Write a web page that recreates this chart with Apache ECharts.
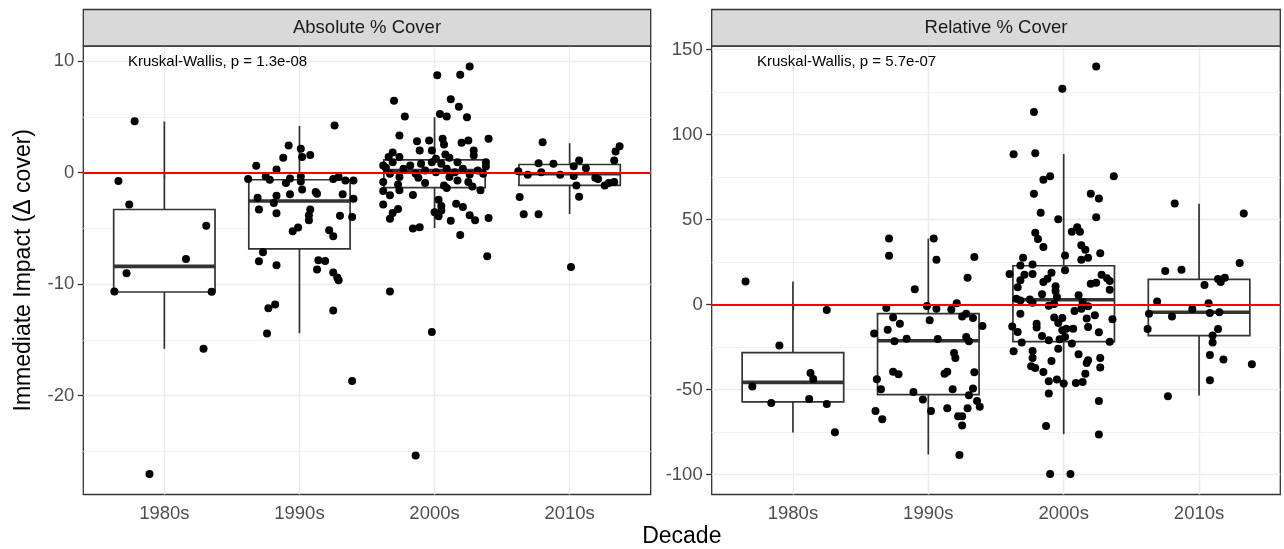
<!DOCTYPE html>
<html>
<head>
<meta charset="utf-8">
<title>Immediate impact by decade</title>
<script src="https://cdn.jsdelivr.net/npm/echarts@6/dist/echarts.min.js"></script>
<style>
  html, body { margin: 0; padding: 0; background: #fff; }
  #chart { width: 1284px; height: 549px; }
</style>
</head>
<body>
<div id="chart"></div>
<script>
const decades = ['1980s', '1990s', '2000s', '2010s']

// y axis ticks / ranges (ggplot default 5% expansion)
const absTicks = [-20, -10, 0, 10]
const absMinor = [-25, -15, -5, 5]
const absRange = [-28.87, 11.37]
const relTicks = [-100, -50, 0, 50, 100, 150]
const relMinor = [-75, -25, 25, 75, 125]
const relRange = [-111.7, 152.2]

// box stats: min, Q1, median, Q3, max
const absBox = [
  [-15.8, -10.7, -8.4, -3.3, 4.6],
  [-14.4, -6.84, -2.54, -0.63, 4.2],
  [-4.96, -1.34, 0.2, 1.16, 4.98],
  [-3.7, -1.14, -0.09, 0.74, 2.65]
]
const relBox = [
  [-75.2, -57.2, -45.7, -28.2, 13.7],
  [-88.2, -52.9, -21.2, -5.3, 38.8],
  [-76.2, -21.7, 2.9, 22.9, 88.7],
  [-53.5, -18.2, -4.5, 14.9, 59.4]
]

// jittered points: [jitter offset, value]
const abs1980 = [[-0.22, 4.62], [-0.34, -0.75], [-0.26, -2.84], [0.31, -4.75], [0.16, -7.73], [-0.28, -9.02], [-0.37, -10.66], [0.35, -10.69], [0.29, -15.79], [-0.11, -27.04]]
const abs1990 = [[0.26, 4.23], [-0.08, 2.44], [0.01, 2.15], [0.02, 1.4], [0.08, 1.58], [-0.12, 1.34], [-0.32, 0.63], [-0.17, 0.3], [-0.38, -0.57], [-0.25, -0.33], [-0.22, -0.63], [-0.07, -0.51], [-0.1, -0.93], [0.01, -0.33], [0.01, -0.78], [0.02, -1.5], [0.25, -0.57], [0.29, -0.39], [0.34, -0.69], [0.4, -0.69], [-0.31, -2.24], [-0.17, -2.06], [-0.19, -2.72], [-0.07, -1.92], [0.12, -1.74], [0.13, -1.88], [0.32, -1.92], [0.4, -2.33], [-0.3, -3.31], [-0.17, -3.64], [0.08, -3.31], [0.07, -3.82], [0.07, -4.27], [0.3, -3.85], [0.39, -3.97], [-0.01, -4.92], [-0.05, -5.26], [0.22, -5.17], [0.25, -5.7], [-0.27, -7.14], [-0.3, -7.94], [-0.17, -8.3], [0.14, -7.85], [0.19, -7.91], [0.13, -8.69], [0.25, -8.96], [0.28, -9.4], [0.29, -9.64], [-0.18, -11.82], [-0.23, -12.15], [0.25, -12.36], [-0.24, -14.42], [0.39, -18.68]]
const abs2000 = [[0.26, 9.54], [0.02, 8.74], [0.19, 8.8], [-0.3, 6.45], [0.12, 6.59], [0.18, 5.91], [-0.22, 5.04], [0.04, 5.28], [0.09, 5.04], [0.24, 4.98], [-0.26, 3.34], [-0.13, 2.83], [-0.04, 2.89], [0.06, 3.04], [0.07, 2.53], [0.2, 2.69], [0.25, 2.89], [0.4, 3.04], [-0.11, 2.0], [-0.02, 2.0], [0.29, 2.0], [-0.31, 1.82], [0.29, 1.55], [-0.34, 1.4], [-0.26, 1.4], [0.08, 1.64], [0.01, 1.25], [0.11, 1.34], [-0.38, 0.65], [-0.31, 0.95], [-0.18, 0.65], [-0.1, 0.8], [-0.02, 0.95], [0.05, 0.8], [0.17, 0.95], [0.38, 0.95], [0.38, 0.56], [-0.36, 0.45], [-0.23, 0.36], [-0.07, 0.21], [0.09, 0.36], [0.21, 0.36], [0.32, 0.21], [-0.33, -0.09], [-0.14, -0.09], [0.01, 0.05], [0.15, 0.05], [0.26, -0.15], [0.36, -0.09], [-0.26, -0.39], [-0.12, -0.45], [0.11, -0.39], [-0.38, -0.84], [-0.07, -0.93], [0.17, -0.69], [0.25, -0.84], [-0.27, -1.05], [0.07, -1.14], [0.28, -1.23], [-0.38, -1.65], [-0.26, -1.58], [0.09, -1.38], [0.34, -1.58], [-0.33, -2.03], [-0.16, -2.0], [0.03, -2.42], [-0.38, -2.84], [0.16, -2.78], [0.05, -2.99], [0.21, -3.08], [-0.27, -3.26], [-0.31, -3.62], [0.0, -3.55], [0.05, -3.38], [0.03, -3.91], [0.26, -3.82], [-0.33, -4.12], [0.12, -4.3], [0.3, -4.27], [0.4, -4.06], [-0.16, -5.01], [-0.11, -4.9], [0.19, -5.59], [0.39, -7.49], [-0.33, -10.65], [-0.02, -14.3], [-0.14, -25.37]]
const abs2010 = [[-0.2, 2.74], [0.37, 2.38], [0.34, 1.91], [0.33, 1.1], [0.07, 1.1], [-0.23, 0.86], [-0.12, 0.8], [0.03, 0.59], [0.12, 0.41], [-0.21, 0.05], [-0.38, 0.14], [-0.31, -0.18], [-0.07, -0.18], [0.03, -0.3], [0.19, -0.45], [0.21, -0.57], [0.33, -0.84], [0.29, -0.93], [0.26, -1.14], [0.05, -1.14], [-0.37, -2.18], [0.07, -2.15], [-0.34, -3.73], [-0.23, -3.73], [0.01, -8.45]]

const rel1980 = [[-0.35, 13.7], [0.25, -3.2], [-0.1, -24.1], [0.13, -40.2], [0.15, -43.7], [-0.3, -48.2], [-0.16, -57.8], [0.12, -55.5], [0.25, -58.4], [0.31, -75.1]]
const rel1990 = [[-0.29, 39.0], [0.04, 39.0], [-0.29, 28.8], [0.06, 26.4], [0.34, 28.0], [0.29, 15.9], [-0.1, 9.0], [-0.31, -2.0], [-0.01, -0.8], [0.06, -2.4], [0.17, -2.9], [0.21, 0.9], [-0.26, -7.6], [-0.21, -11.2], [0.01, -9.2], [0.25, -6.9], [0.28, -5.3], [0.33, -7.9], [0.4, -12.6], [-0.4, -17.0], [-0.3, -14.7], [-0.25, -21.6], [-0.16, -20.0], [0.07, -20.2], [0.28, -19.0], [0.3, -21.6], [0.19, -28.4], [0.2, -31.4], [-0.26, -39.4], [-0.22, -41.0], [0.12, -40.6], [0.14, -39.4], [0.34, -39.8], [-0.38, -43.9], [-0.35, -49.8], [-0.11, -51.4], [0.18, -49.8], [0.33, -49.4], [0.3, -53.3], [0.36, -56.7], [-0.04, -55.8], [0.38, -60.0], [-0.39, -62.5], [-0.34, -67.4], [0.02, -62.5], [0.14, -61.0], [0.29, -61.0], [0.22, -65.7], [0.25, -65.7], [0.25, -71.1], [0.23, -88.4]]
const rel2000 = [[0.24, 140.2], [-0.01, 127.0], [-0.22, 113.4], [-0.37, 88.5], [-0.21, 89.1], [0.37, 75.6], [-0.15, 73.5], [-0.1, 75.6], [-0.22, 65.2], [0.2, 65.2], [0.26, 62.5], [-0.17, 54.1], [0.24, 51.5], [-0.04, 50.3], [-0.21, 42.3], [0.1, 45.6], [0.06, 42.9], [0.12, 42.9], [-0.19, 38.6], [-0.15, 33.9], [0.13, 35.0], [0.16, 32.3], [0.27, 30.3], [0.01, 29.0], [-0.3, 27.6], [0.13, 26.4], [0.18, 27.6], [-0.32, 23.1], [-0.23, 23.7], [0.01, 20.3], [-0.4, 18.0], [-0.29, 17.6], [-0.23, 18.0], [-0.09, 18.8], [0.28, 17.6], [0.32, 15.5], [-0.32, 14.3], [-0.12, 15.3], [0.2, 12.3], [0.24, 12.9], [0.34, 13.9], [-0.34, 10.3], [-0.15, 13.3], [-0.06, 10.8], [0.34, 8.8], [-0.06, 8.0], [-0.16, 6.1], [-0.35, 3.5], [-0.25, 3.1], [-0.05, 4.5], [0.11, 5.5], [-0.32, 2.5], [-0.23, 1.2], [-0.11, -0.6], [-0.07, 0.4], [0.14, 1.4], [0.18, -1.0], [0.08, -3.7], [0.13, -2.4], [-0.32, -5.3], [0.23, -6.3], [-0.07, -7.6], [-0.01, -7.9], [0.17, -8.2], [0.36, -8.6], [-0.2, -11.2], [-0.04, -10.8], [-0.38, -12.8], [-0.2, -13.5], [0.02, -14.1], [0.07, -14.1], [0.18, -13.2], [-0.34, -16.1], [0.26, -16.3], [-0.01, -15.1], [-0.16, -18.5], [0.01, -19.0], [-0.11, -21.0], [-0.03, -20.4], [-0.31, -22.2], [0.06, -22.9], [0.34, -21.8], [-0.04, -25.9], [-0.37, -27.4], [-0.23, -27.3], [0.11, -29.2], [-0.23, -31.4], [0.18, -32.7], [0.27, -31.4], [-0.09, -33.1], [0.17, -34.3], [-0.24, -36.3], [-0.21, -37.3], [0.27, -36.9], [-0.15, -39.6], [0.16, -40.6], [-0.11, -45.1], [-0.05, -44.1], [0.0, -46.4], [0.09, -46.1], [0.14, -45.5], [-0.11, -52.3], [0.26, -56.7], [-0.13, -71.4], [0.26, -76.4], [-0.1, -99.7], [0.05, -99.7]]
const rel2010 = [[-0.18, 59.5], [0.33, 53.7], [0.3, 24.5], [-0.25, 19.8], [-0.13, 20.6], [0.14, 15.1], [0.19, 15.9], [0.16, 13.3], [0.04, 11.5], [-0.31, 1.9], [0.07, 0.8], [-0.05, -2.6], [-0.37, -5.3], [-0.2, -6.9], [0.08, -4.9], [0.15, -4.5], [-0.38, -14.3], [0.14, -14.3], [0.1, -18.2], [0.1, -22.3], [0.08, -29.6], [0.18, -32.3], [0.39, -35.1], [0.08, -44.5], [-0.23, -53.9]]

const absPoints = [abs1980, abs1990, abs2000, abs2010]
const relPoints = [rel1980, rel1990, rel2000, rel2010]

const FONT = 'Liberation Sans, Arial, sans-serif'
const panels = [
  { left: 83.3, width: 567.4, strip: 'Absolute % Cover', note: 'Kruskal-Wallis, p = 1.3e-08', noteX: 128 },
  { left: 711.7, width: 568.6, strip: 'Relative % Cover', note: 'Kruskal-Wallis, p = 5.7e-07', noteX: 757 }
]
const TOP = 46
const HEIGHT = 448.5

function toJitter(groups) {
  return groups.flatMap((g, i) => g.map(p => [i + 1 + p[0], p[1]]))
}

function toBoxes(stats) {
  return stats.map((s, i) => [i + 1].concat(s))
}

function renderBox(params, api) {
  const x = api.value(0)
  const half = 0.375
  const line = (a, b, w) => ({
    type: 'line',
    shape: { x1: a[0], y1: a[1], x2: b[0], y2: b[1] },
    style: { stroke: '#333333', lineWidth: w }
  })
  const lo = api.coord([x, api.value(1)])
  const q1 = api.coord([x, api.value(2)])
  const q3 = api.coord([x, api.value(4)])
  const hi = api.coord([x, api.value(5)])
  const boxL = api.coord([x - half, api.value(4)])
  const boxR = api.coord([x + half, api.value(2)])
  const medL = api.coord([x - half, api.value(3)])
  const medR = api.coord([x + half, api.value(3)])
  return {
    type: 'group',
    children: [
      line(hi, q3, 1.7),
      line(q1, lo, 1.7),
      {
        type: 'rect',
        shape: { x: boxL[0], y: boxL[1], width: boxR[0] - boxL[0], height: boxR[1] - boxL[1] },
        style: { fill: '#ffffff', stroke: '#333333', lineWidth: 1.7 }
      },
      line(medL, medR, 3.6)
    ]
  }
}

function xAxisFor(gridIndex) {
  return {
    type: 'value',
    gridIndex,
    min: 0.4,
    max: 4.6,
    axisLine: { show: false },
    axisTick: { customValues: [1, 2, 3, 4], length: 5.5, lineStyle: { color: '#333333', width: 1.3 } },
    axisLabel: {
      customValues: [1, 2, 3, 4],
      formatter: v => decades[Math.round(v) - 1],
      color: '#4D4D4D',
      fontSize: 18.5,
      fontFamily: FONT,
      margin: 10
    },
    splitLine: { show: true, lineStyle: { color: '#EBEBEB', width: 1.4 } }
  }
}

function yAxisFor(gridIndex, range, ticks) {
  return {
    type: 'value',
    gridIndex,
    min: range[0],
    max: range[1],
    axisLine: { show: false },
    axisTick: { customValues: ticks, length: 5.5, lineStyle: { color: '#333333', width: 1.3 } },
    axisLabel: {
      customValues: ticks,
      color: '#4D4D4D',
      fontSize: 18.5,
      fontFamily: FONT,
      margin: 9
    },
    splitLine: { show: true, lineStyle: { color: '#EBEBEB', width: 1.4 } }
  }
}

function minorAxisFor(gridIndex, range, ticks) {
  return {
    type: 'value',
    gridIndex,
    position: 'right',
    min: range[0],
    max: range[1],
    axisLine: { show: false },
    axisTick: { show: false, customValues: ticks },
    axisLabel: { show: false, customValues: ticks },
    splitLine: { show: true, lineStyle: { color: '#F0F0F0', width: 0.9 } }
  }
}

function seriesFor(xi, yi, boxes, points) {
  return [
    {
      type: 'custom',
      xAxisIndex: xi,
      yAxisIndex: yi,
      renderItem: renderBox,
      encode: { x: 0, y: [1, 2, 3, 4, 5] },
      data: toBoxes(boxes),
      silent: true,
      z: 2
    },
    {
      type: 'scatter',
      xAxisIndex: xi,
      yAxisIndex: yi,
      symbolSize: 8,
      itemStyle: { color: '#000000', opacity: 1 },
      data: toJitter(points),
      z: 3
    },
    {
      type: 'scatter',
      xAxisIndex: xi,
      yAxisIndex: yi,
      data: [],
      z: 4,
      markLine: {
        silent: true,
        symbol: 'none',
        label: { show: false },
        lineStyle: { color: '#FF0000', width: 1.8, type: 'solid' },
        data: [{ yAxis: 0 }]
      }
    }
  ]
}

const graphics = []
panels.forEach(p => {
  graphics.push({
    type: 'rect',
    shape: { x: p.left, y: 9.5, width: p.width, height: TOP - 9.5 },
    style: { fill: '#D9D9D9', stroke: '#333333', lineWidth: 1.3 },
    z: 10
  })
  graphics.push({
    type: 'text',
    x: p.left + p.width / 2,
    y: 28,
    style: { text: p.strip, fill: '#1A1A1A', font: '18.5px ' + FONT, align: 'center', verticalAlign: 'middle' },
    z: 11
  })
  graphics.push({
    type: 'text',
    x: p.noteX,
    y: 62,
    style: { text: p.note, fill: '#000000', font: '15px ' + FONT, align: 'left', verticalAlign: 'middle' },
    z: 11
  })
})
graphics.push({
  type: 'text',
  x: 24,
  y: TOP + HEIGHT / 2,
  rotation: Math.PI / 2,
  style: { text: 'Immediate Impact (\u0394 cover)', fill: '#000000', font: '23px ' + FONT, align: 'center', verticalAlign: 'middle' },
  z: 11
})
graphics.push({
  type: 'text',
  x: (panels[0].left + panels[1].left + panels[1].width) / 2,
  y: 537,
  style: { text: 'Decade', fill: '#000000', font: '23px ' + FONT, align: 'center', verticalAlign: 'middle' },
  z: 11
})

const chart = echarts.init(document.getElementById('chart'), null, { renderer: 'canvas' })
chart.setOption({
  animation: false,
  backgroundColor: '#ffffff',
  grid: panels.map(p => ({
    left: p.left,
    top: TOP,
    width: p.width,
    height: HEIGHT,
    show: true,
    backgroundColor: '#ffffff',
    borderColor: '#333333',
    borderWidth: 1.3
  })),
  xAxis: [xAxisFor(0), xAxisFor(1)],
  yAxis: [
    yAxisFor(0, absRange, absTicks),
    minorAxisFor(0, absRange, absMinor),
    yAxisFor(1, relRange, relTicks),
    minorAxisFor(1, relRange, relMinor)
  ],
  series: [
    ...seriesFor(0, 0, absBox, absPoints),
    ...seriesFor(1, 2, relBox, relPoints)
  ],
  graphic: graphics
})
</script>
</body>
</html>
